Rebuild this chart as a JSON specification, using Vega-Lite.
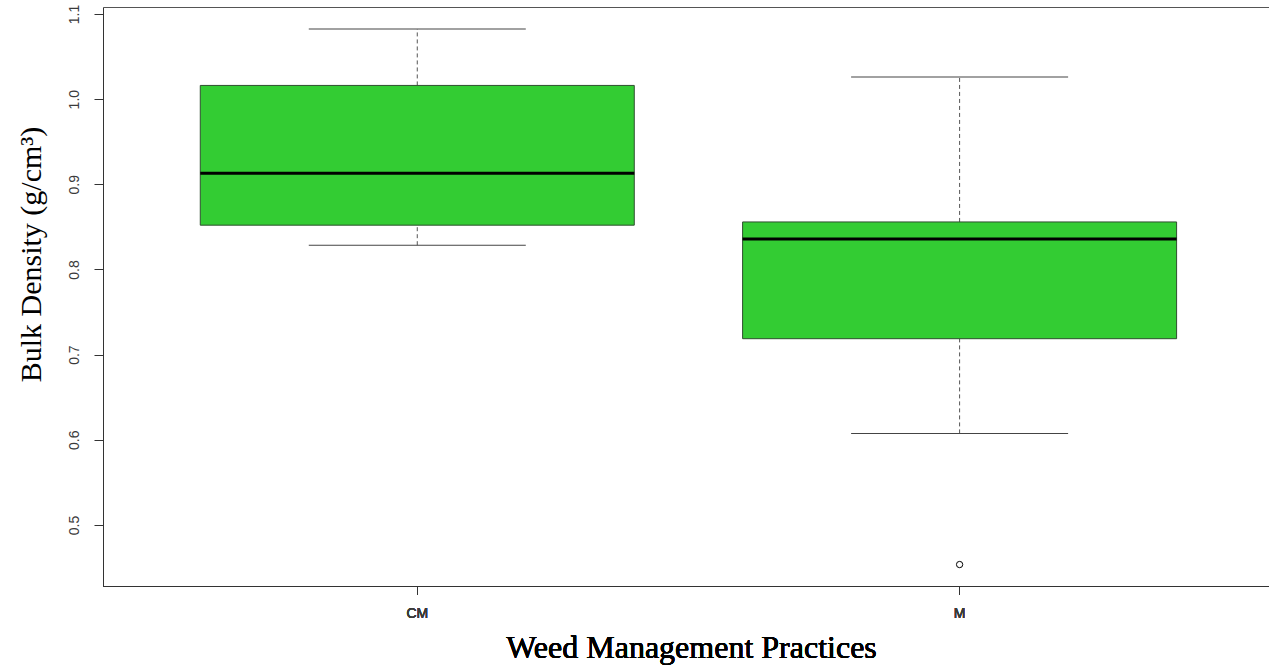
{
  "$schema": "https://vega.github.io/schema/vega-lite/v6.json",
  "width": 1166,
  "height": 579,
  "autosize": {"type": "none"},
  "padding": {"left": 103, "top": 7, "right": 0, "bottom": 79},
  "background": "white",
  "config": {
    "view": {"stroke": null},
    "axis": {
      "domainColor": "#333333",
      "tickColor": "#333333",
      "labelColor": "#3a3a3a",
      "labelFont": "Liberation Sans",
      "labelFontSize": 14,
      "labelFontWeight": "normal",
      "grid": false,
      "titleFont": "Liberation Serif",
      "titleFontWeight": "normal",
      "titleColor": "black",
      "titleFontSize": 32
    }
  },
  "datasets": {
    "box": [
      {"group": "CM", "lower": 0.8285, "q1": 0.852, "median": 0.9131, "q3": 1.0161, "upper": 1.0824},
      {"group": "M", "lower": 0.6075, "q1": 0.7187, "median": 0.8359, "q3": 0.8558, "upper": 1.0259}
    ],
    "outliers": [
      {"group": "M", "value": 0.4535}
    ]
  },
  "encoding": {
    "x": {
      "field": "group", "type": "nominal", "sort": ["CM", "M"],
      "scale": {"paddingInner": 0, "paddingOuter": 0.075, "align": 0.53},
      "axis": {"orient": "bottom", "labelAngle": 0, "tickSize": 8, "labelPadding": 12,
               "title": "Weed Management Practices", "titleX": 588, "titleY": 71,
               "titleAlign": "center", "titleBaseline": "alphabetic"}
    }
  },
  "layer": [
    {
      "data": {"name": "box"},
      "mark": {"type": "rule", "color": "#555555", "strokeDash": [4, 3], "strokeWidth": 1},
      "encoding": {
        "y": {"field": "q3", "type": "quantitative",
              "scale": {"domain": [0.4283, 1.1082], "nice": false, "zero": false},
              "axis": {"values": [0.5, 0.6, 0.7, 0.8, 0.9, 1.0, 1.1], "format": ".1f", "labelAngle": 270, "labelAlign": "center", "labelBaseline": "alphabetic", "tickSize": 9, "labelPadding": 16,
                       "title": "Bulk Density (g/cm³)", "titleFontSize": 30, "titleAngle": 270, "titleX": -63, "titleY": 247, "titleAlign": "center", "titleBaseline": "alphabetic"}},
        "y2": {"field": "upper"}
      }
    },
    {
      "data": {"name": "box"},
      "mark": {"type": "rule", "color": "#555555", "strokeDash": [4, 3], "strokeWidth": 1},
      "encoding": {
        "y": {"field": "lower", "type": "quantitative",
              "axis": {"values": [0.5, 0.6, 0.7, 0.8, 0.9, 1.0, 1.1], "format": ".1f", "labelAngle": 270, "labelAlign": "center", "labelBaseline": "alphabetic", "tickSize": 9, "labelPadding": 16,
                       "title": "Bulk Density (g/cm³)", "titleFontSize": 30, "titleAngle": 270, "titleX": -63, "titleY": 247, "titleAlign": "center", "titleBaseline": "alphabetic"}},
        "y2": {"field": "q1"}
      }
    },
    {
      "data": {"name": "box"},
      "mark": {"type": "bar", "size": 434, "fill": "#33CC33", "stroke": "#2F4F2F", "strokeWidth": 1},
      "encoding": {
        "y": {"field": "q1", "type": "quantitative",
              "axis": {"values": [0.5, 0.6, 0.7, 0.8, 0.9, 1.0, 1.1], "format": ".1f", "labelAngle": 270, "labelAlign": "center", "labelBaseline": "alphabetic", "tickSize": 9, "labelPadding": 16,
                       "title": "Bulk Density (g/cm³)", "titleFontSize": 30, "titleAngle": 270, "titleX": -63, "titleY": 247, "titleAlign": "center", "titleBaseline": "alphabetic"}},
        "y2": {"field": "q3"}
      }
    },
    {
      "data": {"name": "box"},
      "mark": {"type": "tick", "size": 434, "thickness": 3, "color": "black", "opacity": 1},
      "encoding": {
        "y": {"field": "median", "type": "quantitative",
              "axis": {"values": [0.5, 0.6, 0.7, 0.8, 0.9, 1.0, 1.1], "format": ".1f", "labelAngle": 270, "labelAlign": "center", "labelBaseline": "alphabetic", "tickSize": 9, "labelPadding": 16,
                       "title": "Bulk Density (g/cm³)", "titleFontSize": 30, "titleAngle": 270, "titleX": -63, "titleY": 247, "titleAlign": "center", "titleBaseline": "alphabetic"}}
      }
    },
    {
      "data": {"name": "box"},
      "mark": {"type": "tick", "size": 217, "thickness": 1, "color": "#444444", "opacity": 1},
      "encoding": {
        "y": {"field": "upper", "type": "quantitative",
              "axis": {"values": [0.5, 0.6, 0.7, 0.8, 0.9, 1.0, 1.1], "format": ".1f", "labelAngle": 270, "labelAlign": "center", "labelBaseline": "alphabetic", "tickSize": 9, "labelPadding": 16,
                       "title": "Bulk Density (g/cm³)", "titleFontSize": 30, "titleAngle": 270, "titleX": -63, "titleY": 247, "titleAlign": "center", "titleBaseline": "alphabetic"}}
      }
    },
    {
      "data": {"name": "box"},
      "mark": {"type": "tick", "size": 217, "thickness": 1, "color": "#444444", "opacity": 1},
      "encoding": {
        "y": {"field": "lower", "type": "quantitative",
              "axis": {"values": [0.5, 0.6, 0.7, 0.8, 0.9, 1.0, 1.1], "format": ".1f", "labelAngle": 270, "labelAlign": "center", "labelBaseline": "alphabetic", "tickSize": 9, "labelPadding": 16,
                       "title": "Bulk Density (g/cm³)", "titleFontSize": 30, "titleAngle": 270, "titleX": -63, "titleY": 247, "titleAlign": "center", "titleBaseline": "alphabetic"}}
      }
    },
    {
      "data": {"name": "outliers"},
      "mark": {"type": "point", "shape": "circle", "filled": false, "size": 40, "stroke": "black", "strokeWidth": 1, "opacity": 1},
      "encoding": {
        "x": {
          "field": "group", "type": "nominal", "sort": ["CM", "M"],
          "axis": {"orient": "top", "labels": false, "ticks": false, "title": null, "domainColor": "#555555"}
        },
        "y": {"field": "value", "type": "quantitative",
              "axis": {"values": [0.5, 0.6, 0.7, 0.8, 0.9, 1.0, 1.1], "format": ".1f", "labelAngle": 270, "labelAlign": "center", "labelBaseline": "alphabetic", "tickSize": 9, "labelPadding": 16,
                       "title": "Bulk Density (g/cm³)", "titleFontSize": 30, "titleAngle": 270, "titleX": -63, "titleY": 247, "titleAlign": "center", "titleBaseline": "alphabetic"}}
      }
    }
  ]
}
